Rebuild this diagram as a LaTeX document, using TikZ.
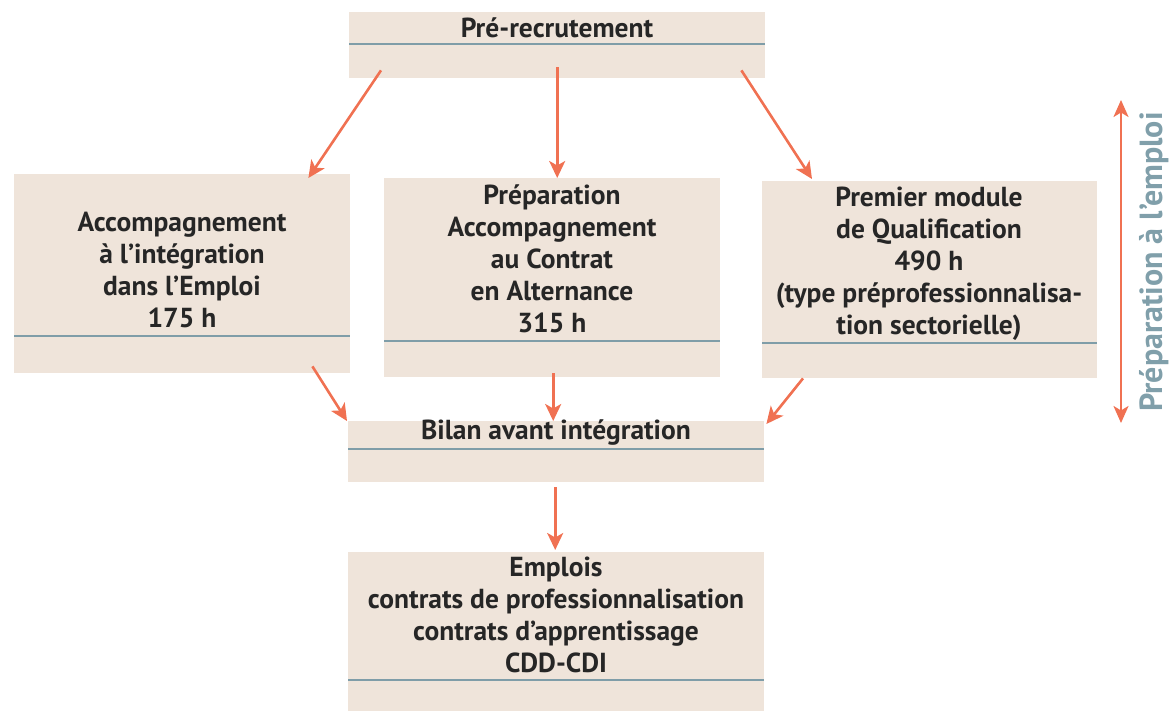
\documentclass[tikz,border=0pt]{standalone}
\usepackage{fontspec}
\setmainfont{PT Sans}
\usetikzlibrary{arrows.meta,calc}
\definecolor{boxfill}{HTML}{EFE4DA}
\definecolor{sepcol}{HTML}{7F9DA8}
\definecolor{arrcol}{HTML}{F07152}
\definecolor{txtcol}{HTML}{262626}
\definecolor{labcol}{HTML}{809FAA}
\begin{document}
\begin{tikzpicture}[x=1pt,y=-1pt,
  box/.style={fill=boxfill, draw=none, inner sep=0pt, anchor=north west},
  sep/.style={draw=sepcol, line width=2.5pt},
  txt/.style={text=txtcol, align=center, inner sep=0pt, font=\fontsize{27.5}{32}\selectfont\bfseries},
  arr/.style={draw=arrcol, line width=2.6pt, -{Stealth[length=17pt,width=16pt,inset=4.5pt]}},
  darr/.style={draw=arrcol, line width=2.6pt, {Stealth[length=17pt,width=15pt,inset=4.5pt]}-{Stealth[length=17pt,width=15pt,inset=4.5pt]}}
]
\useasboundingbox (0,0) rectangle (1173,711);
% boxes
\node[box, minimum width=416pt, minimum height=66pt] (pre) at (349,12) {};
\node[box, minimum width=336pt, minimum height=199pt] (left) at (14,174) {};
\node[box, minimum width=336pt, minimum height=199pt] (mid) at (384,178) {};
\node[box, minimum width=335pt, minimum height=197pt] (right) at (762,181) {};
\node[box, minimum width=416pt, minimum height=61pt] (bilan) at (348,421) {};
\node[box, minimum width=416pt, minimum height=159pt] (emp) at (348,552) {};
% separators
\draw[sep] ($(pre.north west)+(0,32)$) -- ($(pre.north east)+(0,32)$);
\draw[sep] ($(left.north west)+(0,162)$) -- ($(left.north east)+(0,162)$);
\draw[sep] ($(mid.north west)+(0,163)$) -- ($(mid.north east)+(0,163)$);
\draw[sep] ($(right.north west)+(0,162)$) -- ($(right.north east)+(0,162)$);
\draw[sep] ($(bilan.north west)+(0,28)$) -- ($(bilan.north east)+(0,28)$);
\draw[sep] ($(emp.north west)+(0,128)$) -- ($(emp.north east)+(0,128)$);
% texts
\node[txt] (pretxt) at (557,28) {Pré-recrutement};
\node[txt] (lefttxt) at (182,270) {Accompagnement\\à l’intégration\\dans l’Emploi\\175 h};
\node[txt] (midtxt) at (552,259) {Préparation\\Accompagnement\\au Contrat\\en Alternance\\315 h};
\node[txt] (righttxt) at (929,264) {Premier module\\de Qualification\\490 h\\(type préprofessionnalisa-\\tion sectorielle)};
\node[txt] (bilantxt) at (556,433) {Bilan avant intégration};
\node[txt] (emptxt) at (556,615) {Emplois\\contrats de professionnalisation\\contrats d’apprentissage\\CDD-CDI};
% connectors
\draw[arr] ($(pre.south west)+(32,-8)$) -- ($(left.north east)+(-42,4)$);
\draw[arr] ($(pre.south)+(0,-11)$) -- (pre.south |- mid.north);
\draw[arr] ($(pre.south east)+(-24,-8)$) -- ($(right.north west)+(50,-2)$);
\draw[arr] ($(left.south east)+(-38,-7)$) -- ($(bilan.north west)+(-1,0)$);
\draw[arr] ($(mid.south)+(1,-4)$) -- ($(mid.south |- bilan.north)+(1,0)$);
\draw[arr] ($(right.south west)+(41,0)$) -- ($(bilan.north east)+(2,3)$);
\draw[arr] ($(bilan.south)+(-1,5)$) -- ($(emp.north)+(-1,-2)$);
% side arrow and label
\coordinate (vtop) at (1121,100);
\coordinate (vbot) at (1121,423);
\draw[darr] (vbot) -- (vtop);
\node[rotate=90, text=labcol, inner sep=0pt, font=\fontsize{32}{36}\selectfont\bfseries] (vlab) at (1154,262) {Préparation à l’emploi};
\end{tikzpicture}
\end{document}
